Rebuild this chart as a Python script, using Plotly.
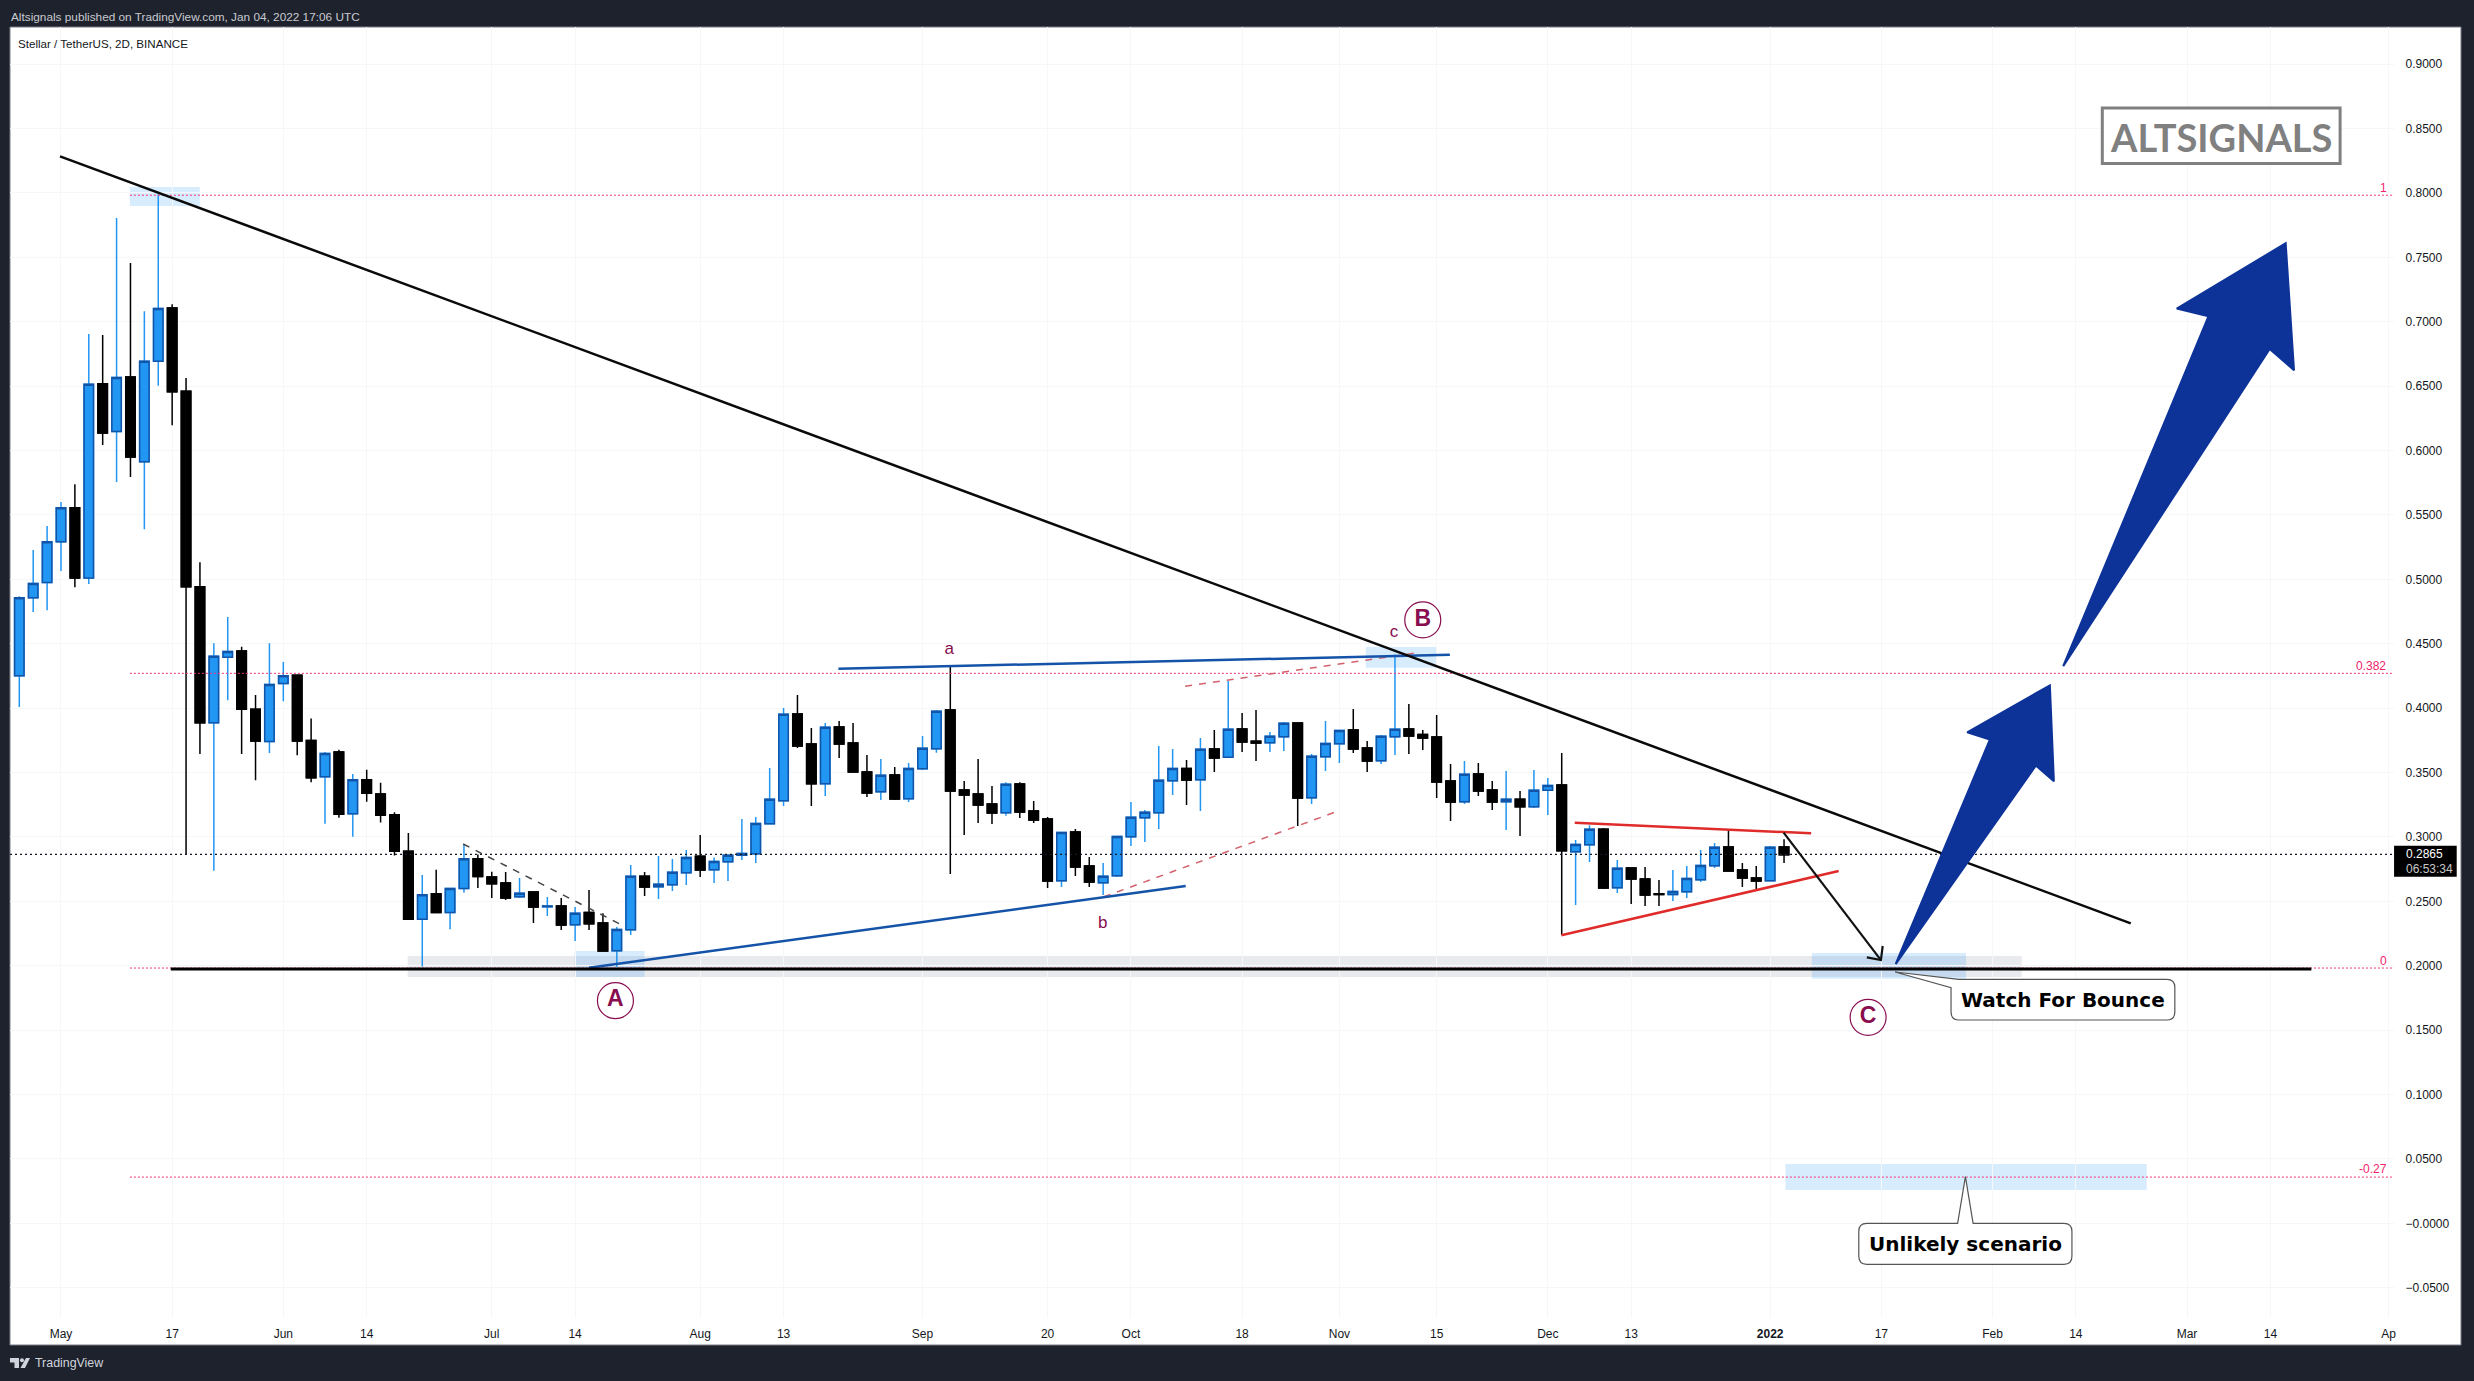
from datetime import datetime, timedelta

import plotly.graph_objects as go

WIDTH = 2474
HEIGHT = 1381
FONT = "Liberation Sans"
# prices below were read against a scale about 1px off, this puts them back
READ_FIX = 0.001

# 2D bars, first one is 2021-04-25
opens = [
    .4242, .4847, .4965, .5282, .5546, .5001, .6508, .6138, .6561, .5903,
    .6683, .7097, .6451, .4932, .3877, .4384, .4433, .3982, .3730, .4181,
    .4246, .3739, .3458, .3649, .3170, .3434, .3324, .3162, .2878, .2350,
    .2549, .2403, .2589, .2821, .2679, .2632, .2526, .2562, .2448, .2454,
    .2309, .2404, .2322, .2107, .2270, .2684, .2604, .2619, .2712, .2839,
    .2736, .2798, .2847, .2860, .3093, .3271, .3944, .3711, .3403, .3843,
    .3719, .3494, .3341, .3471, .3287, .3520, .3675, .3975, .3354, .3323,
    .3245, .3178, .3401, .3191, .3129, .2650, .3028, .2764, .2635, .2689,
    .2992, .3139, .3178, .3427, .3522, .3434, .3672, .3608, .3828, .3732,
    .3722, .3768, .3874, .3295, .3613, .3714, .3820, .3680, .3582, .3768,
    .3828, .3786, .3766, .3424, .3264, .3478, .3354, .3264, .3282, .3225,
    .3352, .3393, .2875, .2930, .3049, .2596, .2749, .2663, .2549, .2542,
    .2565, .2658, .2767, .2912, .2733, .2671, .2650, .2912,
]
closes = [
    .4847, .4957, .5282, .5546, .5001, .6504, .6126, .6557, .5939, .6683,
    .7093, .6447, .4932, .3877, .4392, .4429, .3982, .3735, .4173, .4242,
    .3735, .3450, .3637, .3166, .3434, .3329, .3158, .2878, .2350, .2541,
    .2403, .2589, .2821, .2683, .2626, .2516, .2552, .2446, .2454, .2306,
    .2397, .2316, .2104, .2272, .2684, .2601, .2622, .2715, .2831, .2733,
    .2800, .2847, .2862, .3095, .3282, .3942, .3696, .3403, .3841, .3711,
    .3494, .3331, .3468, .3284, .3522, .3678, .3965, .3346, .3315, .3238,
    .3176, .3398, .3183, .3121, .2648, .3025, .2756, .2640, .2684, .2994,
    .3142, .3181, .3429, .3522, .3432, .3670, .3603, .3825, .3727, .3719,
    .3771, .3872, .3292, .3616, .3716, .3817, .3672, .3579, .3771, .3825,
    .3773, .3758, .3416, .3261, .3476, .3346, .3261, .3282, .3225, .3352,
    .3390, .2883, .2932, .3049, .2593, .2746, .2663, .2539, .2542, .2567,
    .2668, .2769, .2909, .2725, .2671, .2648, .2909, .2852,
]
highs = [
    .4859, .5217, .5403, .5590, .5728, .6894, .6886, .7795, .7446, .7072,
    .7978, .7125, .6553, .5123, .4494, .4697, .4466, .4092, .4494, .4348,
    .4246, .3909, .3649, .3666, .3479, .3511, .3410, .3182, .3020, .2695,
    .2736, .2589, .2931, .2853, .2719, .2717, .2671, .2568, .2523, .2516,
    .2446, .2578, .2397, .2290, .2772, .2717, .2842, .2818, .2888, .3005,
    .2831, .2847, .3129, .3144, .3525, .3991, .4092, .3835, .3874, .3890,
    .3874, .3626, .3595, .3533, .3564, .3773, .3975, .4312, .3424, .3595,
    .3385, .3414, .3414, .3269, .3144, .3025, .3051, .2834, .2787, .2994,
    .3261, .3199, .3696, .3672, .3587, .3758, .3820, .4200, .3952, .3975,
    .3804, .3882, .3874, .3634, .3890, .3817, .3983, .3735, .3781, .4407,
    .4022, .3820, .3936, .3556, .3579, .3564, .3424, .3502, .3346, .3510,
    .3447, .3642, .2966, .3080, .3059, .2811, .2754, .2756, .2655, .2733,
    .2764, .2888, .2943, .3044, .2787, .2764, .2919, .2971,
]
lows = [
    .3998, .4737, .4750, .5054, .4928, .4953, .6033, .5745, .5785, .5379,
    .6492, .6187, .2849, .3633, .2727, .4051, .3633, .3430, .3641, .4043,
    .3625, .3414, .3093, .3138, .2991, .3264, .3101, .2845, .2350, .1984,
    .2403, .2273, .2557, .2594, .2516, .2500, .2516, .2322, .2376, .2267,
    .2182, .2267, .2104, .1982, .2228, .2531, .2508, .2570, .2617, .2679,
    .2632, .2648, .2811, .2787, .3093, .3230, .3680, .3230, .3308, .3603,
    .3494, .3300, .3276, .3276, .3261, .3509, .3644, .2702, .3005, .3098,
    .3090, .3155, .3137, .3098, .2593, .2601, .2686, .2601, .2539, .2679,
    .2919, .2950, .3051, .3315, .3238, .3191, .3494, .3608, .3649, .3579,
    .3649, .3657, .3075, .3245, .3502, .3564, .3641, .3494, .3556, .3626,
    .3634, .3665, .3292, .3113, .3245, .3308, .3199, .3044, .2997, .3214,
    .3160, .2228, .2461, .2795, .2586, .2555, .2469, .2454, .2454, .2492,
    .2516, .2640, .2749, .2725, .2601, .2583, .2650, .2787,
]

# axis labels, x positions are in bars from the first one
x_tick_bars = [3, 11, 19, 25, 34, 40, 49, 55, 65, 74, 80, 88, 95, 102, 110, 116, 126, 134, 142, 148, 156, 162, 170.5]
x_tick_text = ["May", "17", "Jun", "14", "Jul", "14", "Aug", "13", "Sep", "20", "Oct", "18", "Nov", "15", "Dec", "13",
               "<b>2022</b>", "17", "Feb", "14", "Mar", "14", "Ap"]
y_tick_vals = [.9, .85, .8, .75, .7, .65, .6, .55, .5, .45, .4, .35, .3, .25, .2, .15, .1, .05, 0, -.05]
y_tick_text = ["0.9000", "0.8500", "0.8000", "0.7500", "0.7000", "0.6500", "0.6000", "0.5500", "0.5000", "0.4500",
               "0.4000", "0.3500", "0.3000", "0.2500", "0.2000", "0.1500", "0.1000", "0.0500", "\u22120.0000",
               "\u22120.0500"]

# fib levels and current price
fib_vals = [.7972, .4260, .1972, .0349]
fib_labels = ["1", "0.382", "0", "-0.27"]
last_price = .2855

# drawings: [bar, bar], [price, price]
trend_bars, trend_vals = [2.93, 151.95], [.8274, .2319]
support_bars, support_vals = [10.9, 164.95], [.1964, .1964]
upper_blue_bars, upper_blue_vals = [58.95, 102.95], [.4296, .4404]
lower_blue_bars, lower_blue_vals = [41.0, 83.94], [.1975, .2609]
grey_dash_bars, grey_dash_vals = [31.94, 43.6], [.2935, .2293]
red_dash1_bars, red_dash1_vals = [83.9, 100.76], [.4159, .4423]
red_dash2_bars, red_dash2_vals = [78.05, 94.65], [.2525, .3181]
tri_top_bars, tri_top_vals = [111.94, 128.95], [.3100, .3018]
tri_low_bars, tri_low_vals = [110.97, 130.93], [.2226, .2725]
drop_bars = [126.97, 133.97, None, 134.1, 133.97, 132.96]
drop_vals = [.3023, .2034, None, .2143, .2034, .2055]
arrow1_bars = [135.03, 141.81, 140.18, 146.13, 146.42, 145.12, 135.03]
arrow1_vals = [.2003, .3745, .3802, .4167, .3422, .3544, .2003]
arrow2_bars = [147.09, 157.54, 155.26, 163.1, 163.7, 161.95, 147.09]
arrow2_vals = [.4315, .7032, .7092, .7599, .6613, .6778, .4315]

# zones: bar0, bar1, price0, price1
blue_zones = [
    (7.96, 12.99, .8036, .7888),
    (39.96, 45.0, .2104, .1902),
    (96.9, 102.0, .4464, .4304),
    (129.0, 140.1, .2089, .1889),
    (127.1, 153.1, .0450, .0248),
]
grey_zone = (27.95, 144.1, .2065, .1902)

wave_bars = [42.9, 101.0, 133.05]
wave_vals = [.1719, .4675, .1589]
wave_text = ["A", "B", "C"]
sub_bars = [66.93, 77.97, 98.93]
sub_vals = [.4441, .2319, .4575]
sub_text = ["a", "b", "c"]


def fix(vals):
    return [None if v is None else v + READ_FIX for v in vals]


def bar_x(i):
    if i is None:
        return None
    return (datetime(2021, 4, 25) + timedelta(days=2 * i)).strftime("%Y-%m-%d %H:%M:%S")


def bars_x(items):
    return [bar_x(i) for i in items]


def px(x):
    return x / WIDTH


def py(y):
    return 1 - y / HEIGHT


def pixel_path(points):
    # each step is a command and then x, y pairs in page pixels
    cmds = []
    for step in points:
        pairs = [f"{px(step[k]):.5f},{py(step[k + 1]):.5f}" for k in range(1, len(step), 2)]
        cmds.append(step[0] + " ".join(pairs))
    return " ".join(cmds) + " Z"


def box_right_part(left, right, top, bottom, r=8):
    # top right corner round to bottom left corner
    return [
        ("L", right - r, top),
        ("Q", right, top, right, top + r),
        ("L", right, bottom - r),
        ("Q", right, bottom, right - r, bottom),
        ("L", left + r, bottom),
        ("Q", left, bottom, left, bottom - r),
    ]


dates = bars_x(range(len(opens)))
o_fixed, h_fixed, l_fixed, c_fixed = fix(opens), fix(highs), fix(lows), fix(closes)
body_top = [max(o, c) for o, c in zip(o_fixed, c_fixed)]
body_bot = [min(o, c) for o, c in zip(o_fixed, c_fixed)]

fig = go.Figure()

for level in fix(fib_vals):
    fig.add_trace(
        go.Scatter(
            x=bars_x([7.96, 171]),
            y=[level, level],
            mode="lines",
            line=dict(color="#f0337a", width=1, dash="2px,2px"),
        )
    )
fig.add_trace(
    go.Scatter(
        x=bars_x([-0.67, 171]),
        y=fix([last_price, last_price]),
        mode="lines",
        line=dict(color="#131722", width=1.2, dash="2px,3px"),
    )
)

# full candle first for the wicks, then bodies only with the darker border
fig.add_trace(
    go.Candlestick(
        x=dates,
        open=o_fixed,
        high=h_fixed,
        low=l_fixed,
        close=c_fixed,
        increasing=dict(line=dict(color="#2196f3", width=1.5), fillcolor="#2196f3"),
        decreasing=dict(line=dict(color="#000000", width=1.5), fillcolor="#000000"),
    )
)
fig.add_trace(
    go.Candlestick(
        x=dates,
        open=o_fixed,
        high=body_top,
        low=body_bot,
        close=c_fixed,
        increasing=dict(line=dict(color="#1254a8", width=1.5), fillcolor="#2196f3"),
        decreasing=dict(line=dict(color="#000000", width=1.5), fillcolor="#000000"),
    )
)


def add_line(bars, vals, color, width, dash="solid"):
    fig.add_trace(
        go.Scatter(
            x=bars_x(bars),
            y=fix(vals),
            mode="lines",
            connectgaps=False,
            line=dict(color=color, width=width, dash=dash),
        )
    )


add_line(grey_dash_bars, grey_dash_vals, "#444444", 1.5, "7px,7px")
add_line(red_dash1_bars, red_dash1_vals, "#d4626c", 1.5, "7px,7px")
add_line(red_dash2_bars, red_dash2_vals, "#d4626c", 1.5, "7px,7px")
add_line(upper_blue_bars, upper_blue_vals, "#1453a8", 2.5)
add_line(lower_blue_bars, lower_blue_vals, "#1453a8", 2.5)
add_line(tri_top_bars, tri_top_vals, "#e02b2b", 2.5)
add_line(tri_low_bars, tri_low_vals, "#e02b2b", 2.5)
add_line(support_bars, support_vals, "#000000", 3)
add_line(trend_bars, trend_vals, "#0a0a0a", 2.5)
add_line(drop_bars, drop_vals, "#111111", 2.2)

for bars, vals in ((arrow1_bars, arrow1_vals), (arrow2_bars, arrow2_vals)):
    fig.add_trace(
        go.Scatter(
            x=bars_x(bars),
            y=fix(vals),
            mode="lines",
            fill="toself",
            fillcolor="#0d3399",
            line=dict(color="#0d3399", width=2),
        )
    )

fig.add_trace(
    go.Scatter(
        x=bars_x(wave_bars),
        y=fix(wave_vals),
        mode="markers+text",
        text=[f"<b>{t}</b>" for t in wave_text],
        textposition="middle center",
        textfont=dict(family=FONT, size=23, color="#880e4f"),
        marker=dict(size=36, color="#ffffff", line=dict(color="#880e4f", width=1.2)),
    )
)
fig.add_trace(
    go.Scatter(
        x=bars_x(sub_bars),
        y=fix(sub_vals),
        mode="text",
        text=sub_text,
        textposition="middle center",
        textfont=dict(family=FONT, size=17, color="#880e4f"),
    )
)

shapes = [
    # white panel with its thin frame
    dict(type="rect", xref="paper", yref="paper", x0=px(10), x1=px(2463), y0=py(27), y1=py(1345),
         fillcolor="#ffffff", line=dict(color="#787b86", width=1), layer="below"),
    dict(type="rect", xref="x", yref="y", x0=bar_x(grey_zone[0]), x1=bar_x(grey_zone[1]),
         y0=grey_zone[2] + READ_FIX, y1=grey_zone[3] + READ_FIX, fillcolor="#e9eaed", line=dict(width=0),
         layer="below"),
]
for b0, b1, v0, v1 in blue_zones:
    shapes.append(
        dict(type="rect", xref="x", yref="y", x0=bar_x(b0), x1=bar_x(b1), y0=v0 + READ_FIX, y1=v1 + READ_FIX,
             fillcolor="rgba(33,150,243,0.18)", line=dict(width=0), layer="below")
    )

# callouts
watch = [("M", 1960.3, 979.3)] + box_right_part(1952.6, 2176.6, 979.3, 1020)
watch += [("L", 1952.6, 987.7), ("L", 1896.7, 972)]
unlikely = [("M", 1959.2, 1223.3), ("L", 1967, 1176.7), ("L", 1974.7, 1223.3)]
unlikely += box_right_part(1860.3, 2073.6, 1223.3, 1264.3)
unlikely += [("L", 1860.3, 1231.3), ("Q", 1860.3, 1223.3, 1868.3, 1223.3)]
for outline in (watch, unlikely):
    shapes.append(
        dict(type="path", xref="paper", yref="paper", path=pixel_path(outline),
             fillcolor="#ffffff", line=dict(color="#555555", width=1.2))
    )

# logo box and the price tag
shapes.append(dict(type="rect", xref="paper", yref="paper", x0=px(2104), x1=px(2342), y0=py(108), y1=py(163.5),
                   fillcolor="#ffffff", line=dict(color="#808080", width=3)))
shapes.append(dict(type="rect", xref="paper", yref="paper", x0=px(2396), x1=px(2458.7), y0=py(845.7), y1=py(876.7),
                   fillcolor="#000000", line=dict(width=0)))

# TradingView mark in the footer
tv_mark = [
    [("M", 10, 1358), ("L", 19, 1358), ("L", 19, 1368), ("L", 14.5, 1368), ("L", 14.5, 1362.5), ("L", 10, 1362.5)],
    [("M", 26, 1358), ("L", 30, 1358), ("L", 25, 1368), ("L", 20.5, 1368)],
]
for part in tv_mark:
    shapes.append(dict(type="path", xref="paper", yref="paper", path=pixel_path(part),
                       fillcolor="#d1d4dc", line=dict(width=0)))
shapes.append(dict(type="circle", xref="paper", yref="paper", x0=px(20), x1=px(24), y0=py(1358.2), y1=py(1362.2),
                   fillcolor="#d1d4dc", line=dict(width=0)))

annotations = []


def add_text(text, x, y, size, color, anchor="left", family=FONT):
    annotations.append(
        dict(text=text, xref="paper", yref="paper", x=px(x), y=py(y), xanchor=anchor, yanchor="middle",
             showarrow=False, font=dict(family=family, size=size, color=color))
    )


add_text("Altsignals published on TradingView.com, Jan 04, 2022 17:06 UTC", 9, 17, 11.8, "#c8cad0")
add_text("Stellar / TetherUS, 2D, BINANCE", 16.5, 43.7, 11.6, "#131722")
add_text("TradingView", 33.5, 1363.3, 12.4, "#d1d4dc")
add_text("<b>ALTSIGNALS</b>", 2223, 136.5, 38, "#808080", "center", "Lato")
add_text("<b>Watch For Bounce</b>", 2064.5, 999.5, 20, "#000000", "center", "DejaVu Sans")
add_text("<b>Unlikely scenario</b>", 1967, 1243.8, 20, "#000000", "center", "DejaVu Sans")
add_text("0.2865", 2406, 854.3, 12, "#ffffff")
add_text("06:53:34", 2406, 868.7, 12, "#c9c9c9")

for text, x, y in zip(fib_labels, (2391, 2390, 2391, 2391), (187.7, 665.7, 960.7, 1169)):
    add_text(text, x, y, 12, "#f0246e", "right")

fig.update_layout(
    width=WIDTH,
    height=HEIGHT,
    margin=dict(l=0, r=0, t=0, b=0),
    paper_bgcolor="#1e222d",
    plot_bgcolor="#ffffff",
    showlegend=False,
    hovermode=False,
    boxgap=0.32,
    boxgroupgap=0,
    shapes=shapes,
    annotations=annotations,
    xaxis=dict(
        type="date",
        domain=[px(10), px(2396)],
        range=[bar_x(-0.67), bar_x(170.9)],
        tickmode="array",
        tickvals=bars_x(x_tick_bars),
        ticktext=x_tick_text,
        rangeslider=dict(visible=False),
        showgrid=True,
        gridcolor="#f6f7f9",
        zeroline=False,
        showline=False,
        ticks="outside",
        ticklen=5,
        tickcolor="#ffffff",
        tickangle=0,
        tickfont=dict(family=FONT, size=12, color="#131722"),
        anchor="y",
    ),
    yaxis=dict(
        domain=[py(1318), py(27)],
        range=[-0.0735, 0.9288],
        side="right",
        tickmode="array",
        tickvals=y_tick_vals,
        ticktext=y_tick_text,
        showgrid=True,
        gridcolor="#f6f7f9",
        zeroline=False,
        showline=False,
        ticks="outside",
        ticklen=8,
        tickcolor="#ffffff",
        tickfont=dict(family=FONT, size=12, color="#131722"),
        anchor="x",
    ),
)

# the page's default body margin would push the figure off by 8px
fig.write_html(
    "out.html",
    config={"displayModeBar": False},
    post_script="document.body.style.margin='0';document.body.style.overflow='hidden';",
)
